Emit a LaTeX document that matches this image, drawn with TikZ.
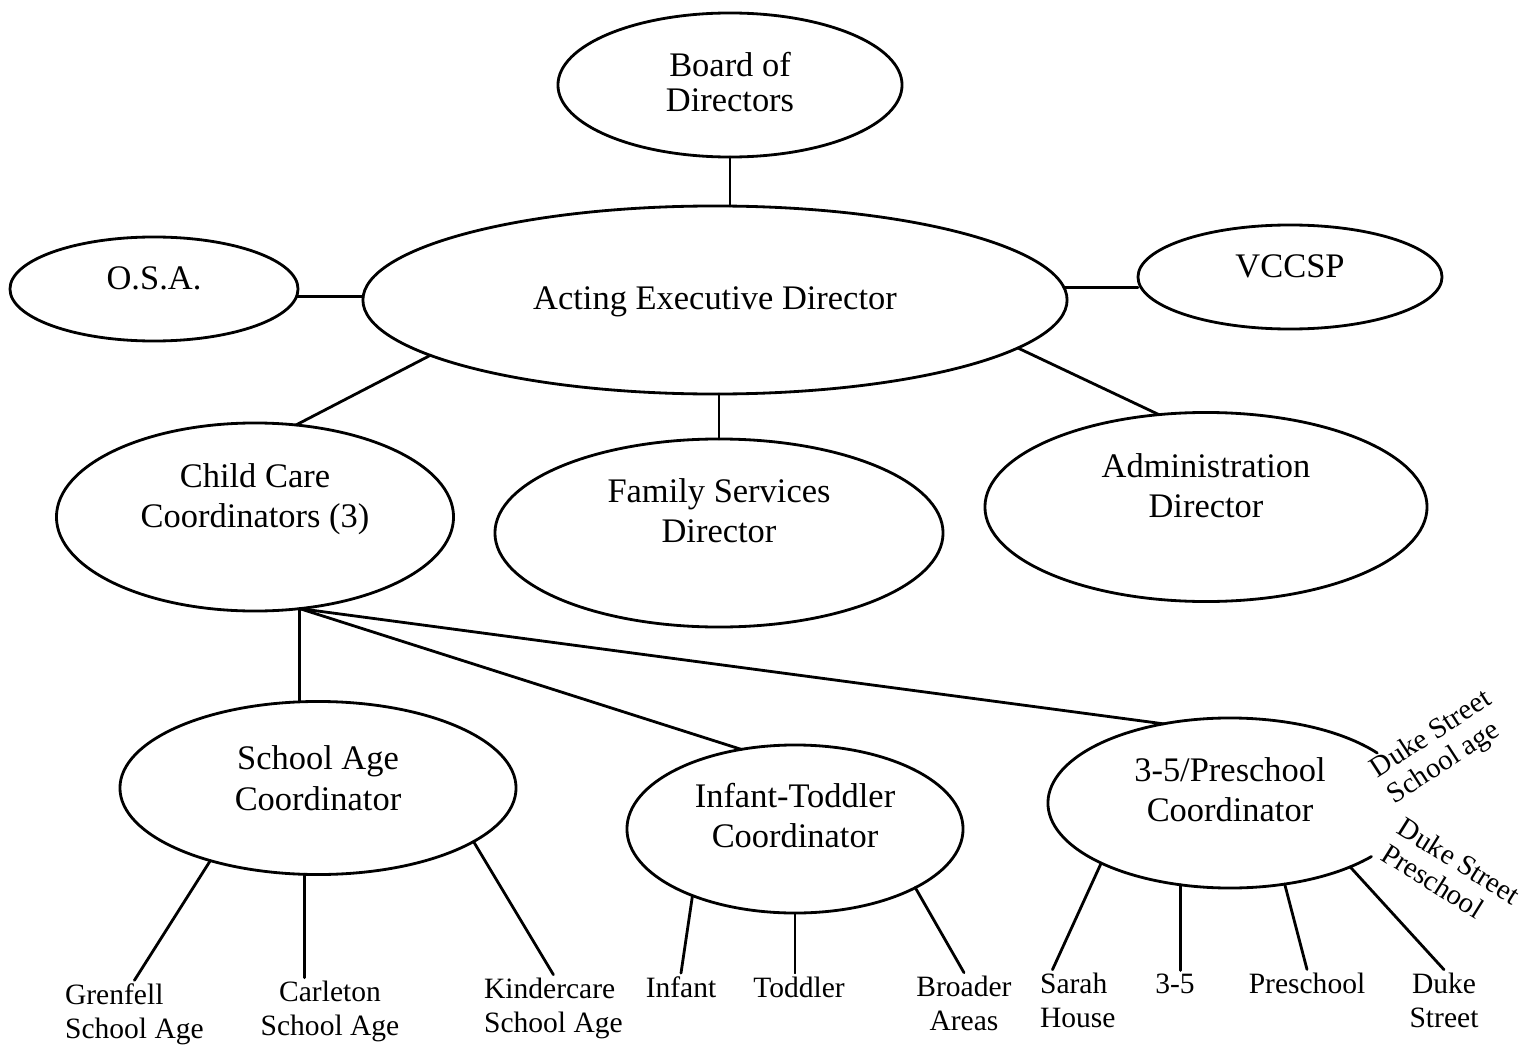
\documentclass[tikz,border=0pt]{standalone}
\usepackage{fontspec}
\setmainfont{Liberation Serif}
\usetikzlibrary{shapes.geometric}

\begin{document}
\begin{tikzpicture}[%
    x=0.025cm, y=0.025cm,
    writing/.style={%
      align=center,                        % centre the lines
      font=\fontsize{24.5}{29}\selectfont  % large serif text
    },
    unit/.style={%
      ellipse,          % elliptical node
      draw,             % black outline
      line width=2pt,   % heavy scanned line
      inner sep=0pt,    % size set by minimum width/height
      outer sep=0pt,
      writing           % writing style above
    },
    lift/.style={%
      text height=#1,   % last baseline sits
      text depth=0pt    %   half of #1 below the centre
    },
    leaf/.style={%
      inner sep=2pt,
      font=\fontsize{21}{24}\selectfont
    },
    side/.style={%
      align=left,
      inner sep=0pt,
      font=\fontsize{20.5}{22}\selectfont
    },
    link/.style={%
      line width=2pt,   % heavy connector
      line cap=round
    }
]

    \useasboundingbox (0,0) rectangle (1522,-1045);

    % top level
    \node at (730,-85)    [unit, minimum width=8.6cm, minimum height=3.6cm, lift=38.4pt,
                           font=\fontsize{24.5}{25}\selectfont] (board) {Board of\\Directors};
    \node at (715,-300)   [unit, minimum width=17.6cm, minimum height=4.7cm, lift=12.8pt] (aed) {Acting Executive Director};
    \node at (154,-289)   [unit, minimum width=7.2cm, minimum height=2.6cm, lift=0pt] (osa) {O.S.A.};
    \node at (1290,-277)  [unit, minimum width=7.6cm, minimum height=2.6cm, lift=0pt] (vccsp) {VCCSP};

    % directors
    \node at (255,-517)   [unit, minimum width=9.925cm, minimum height=4.7cm, lift=15.6pt] (ccc) {Child Care\\Coordinators (3)};
    \node at (719,-533)   [unit, minimum width=11.2cm, minimum height=4.7cm, lift=14.2pt] (fsd) {Family Services\\Director};
    \node at (1206,-507)  [unit, minimum width=11.05cm, minimum height=4.725cm, lift=15.6pt] (adm) {Administration\\Director};

    % coordinators
    \node at (318,-788)   [unit, minimum width=9.9cm, minimum height=4.325cm, lift=31.3pt] (sac) {School Age\\Coordinator};
    \node at (795,-829)   [unit, minimum width=8.4cm, minimum height=4.2cm, lift=27pt] (itc) {Infant-Toddler\\Coordinator};
    \node at (1230,-803)  [unit, draw=none, minimum width=9.1cm, minimum height=4.25cm, lift=27pt] (pre) {3-5/Preschool\\Coordinator};
    \draw[link] ([shift={(36:4.55cm and 2.125cm)}]pre.center)
      arc[start angle=36, end angle=321, x radius=4.55cm, y radius=2.125cm];

    % programs
    \node at (62,-1038)   [leaf, anchor=base west, align=left] (grenfell) {Grenfell\\School Age};
    \node at (330,-1035)  [leaf, anchor=base, align=center] (carleton) {Carleton\\School Age};
    \node at (481,-1032)  [leaf, anchor=base west, align=left] (kindercare) {Kindercare\\School Age};
    \node at (681,-997)   [leaf, anchor=base] (infant) {Infant};
    \node at (799,-997)   [leaf, anchor=base] (toddler) {Toddler};
    \node at (964,-1030)  [leaf, anchor=base, align=center] (broader) {Broader\\Areas};
    \node at (1037,-1027) [leaf, anchor=base west, align=left] (sarah) {Sarah\\House};
    \node at (1175,-993)  [leaf, anchor=base] (threefive) {3-5};
    \node at (1307,-993)  [leaf, anchor=base] (preschool) {Preschool};
    \node at (1444,-1027) [leaf, anchor=base, align=center] (duke) {Duke\\Street};

    \node at (1440,-748)  [side, rotate=33] (dukeage) {Duke Street\\School age};
    \node at (1451,-874)  [side, rotate=-32] (dukepre) {Duke Street\\Preschool};

    % connections
    \draw[link] (board.south) -- (board.south |- aed.north);
    \draw[link] (osa.-3) -- (osa.-3 -| aed.west);
    \draw[link] (aed.2) -- (aed.2 -| vccsp.west);
    \draw[link] (aed.191) -- (ccc.66);
    \draw[link] (fsd.north) -- (fsd.north |- aed.south);
    \draw[link] (aed.-9) -- (adm.117);

    \draw[link] (ccc.-64) -- (ccc.-64 |- sac.north);
    \draw[link] (ccc.-64) -- (itc.124);
    \draw[link] (ccc.-64) -- (pre.130);

    \draw[link] (sac.214) -- (grenfell.north);
    \draw[link] (sac.261) -- (sac.261 |- carleton.north);
    \draw[link] (sac.-19) -- (kindercare.north);

    \draw[link] (itc.213) -- (infant.north);
    \draw[link, line width=1pt] (itc.south) -- (itc.south |- toddler.north);
    \draw[link] (itc.-26) -- (broader.north);

    \draw[link] (pre.205) -- ([xshift=11pt]sarah.north west);
    \draw[link] (pre.239) -- (pre.239 |- threefive.north);
    \draw[link] (pre.-56) -- (preschool.north);
    \draw[link] (pre.-28) -- (duke.north);

\end{tikzpicture}
\end{document}
